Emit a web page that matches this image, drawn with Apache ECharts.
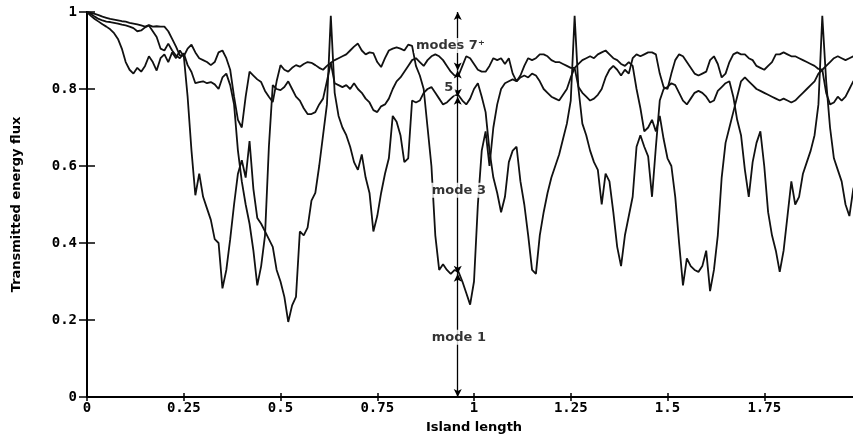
<!DOCTYPE html>
<html>
<head>
<meta charset="utf-8">
<title>Transmitted energy flux</title>
<script src="https://cdn.jsdelivr.net/npm/echarts@6/dist/echarts.min.js"></script>
<style>
  html, body { margin: 0; padding: 0; background: #fff; }
  #main { width: 853px; height: 436px; }
</style>
</head>
<body>
<div id="main"></div>
<script>
// island length grid: 0 .. 2, read every 0.01
const xStep = 0.01
const xCount = 201

// curve with the sharp peaks to 1
const curveA = [
  1.000, 0.998, 0.995, 0.992, 0.988, 0.985, 0.982, 0.980, 0.978, 0.976,
  0.975, 0.972, 0.970, 0.968, 0.965, 0.962, 0.966, 0.962, 0.963, 0.962,
  0.962, 0.950, 0.930, 0.910, 0.887, 0.887, 0.780, 0.640, 0.524, 0.580,
  0.520, 0.490, 0.460, 0.410, 0.400, 0.282, 0.330, 0.410, 0.500, 0.580,
  0.615, 0.570, 0.665, 0.540, 0.465, 0.450, 0.430, 0.410, 0.390, 0.330,
  0.300, 0.260, 0.195, 0.238, 0.260, 0.430, 0.420, 0.440, 0.510, 0.530,
  0.600, 0.680, 0.760, 0.990, 0.790, 0.730, 0.700, 0.680, 0.650, 0.610,
  0.590, 0.630, 0.570, 0.530, 0.430, 0.470, 0.530, 0.580, 0.620, 0.730,
  0.715, 0.680, 0.610, 0.620, 0.770, 0.765, 0.770, 0.790, 0.800, 0.805,
  0.790, 0.775, 0.760, 0.765, 0.775, 0.784, 0.784, 0.770, 0.760, 0.775,
  0.800, 0.815, 0.780, 0.740, 0.640, 0.570, 0.530, 0.480, 0.520, 0.610,
  0.640, 0.650, 0.560, 0.500, 0.420, 0.330, 0.320, 0.420, 0.480, 0.530,
  0.570, 0.600, 0.630, 0.670, 0.710, 0.770, 0.990, 0.800, 0.710, 0.680,
  0.640, 0.610, 0.590, 0.500, 0.580, 0.560, 0.480, 0.390, 0.340, 0.420,
  0.470, 0.520, 0.650, 0.680, 0.650, 0.625, 0.520, 0.650, 0.770, 0.800,
  0.805, 0.815, 0.810, 0.790, 0.770, 0.760, 0.775, 0.790, 0.795, 0.790,
  0.780, 0.765, 0.770, 0.795, 0.805, 0.815, 0.820, 0.780, 0.720, 0.680,
  0.590, 0.520, 0.610, 0.660, 0.690, 0.600, 0.480, 0.420, 0.380, 0.325,
  0.380, 0.470, 0.560, 0.500, 0.520, 0.580, 0.610, 0.640, 0.680, 0.760,
  0.990, 0.820, 0.700, 0.620, 0.590, 0.560, 0.500, 0.470, 0.540, 0.570, 0.600
]

// curve with the wide flat-bottomed dips
const curveB = [
  1.000, 0.995, 0.988, 0.982, 0.978, 0.975, 0.974, 0.972, 0.970, 0.967,
  0.965, 0.962, 0.958, 0.950, 0.952, 0.960, 0.965, 0.950, 0.935, 0.905,
  0.900, 0.918, 0.900, 0.887, 0.880, 0.893, 0.862, 0.844, 0.815, 0.818,
  0.820, 0.815, 0.818, 0.812, 0.800, 0.830, 0.840, 0.810, 0.760, 0.640,
  0.560, 0.500, 0.450, 0.380, 0.290, 0.340, 0.420, 0.650, 0.810, 0.800,
  0.797, 0.805, 0.820, 0.800, 0.780, 0.770, 0.750, 0.735, 0.735, 0.740,
  0.760, 0.775, 0.820, 0.868, 0.875, 0.880, 0.885, 0.890, 0.900, 0.910,
  0.918, 0.900, 0.890, 0.895, 0.893, 0.870, 0.857, 0.880, 0.900, 0.905,
  0.908, 0.905, 0.900, 0.915, 0.912, 0.860, 0.835, 0.800, 0.700, 0.600,
  0.420, 0.330, 0.345, 0.330, 0.320, 0.330, 0.325, 0.300, 0.270, 0.240,
  0.300, 0.500, 0.640, 0.690, 0.600, 0.700, 0.760, 0.800, 0.815, 0.820,
  0.825, 0.820, 0.830, 0.835, 0.830, 0.840, 0.835, 0.820, 0.800, 0.790,
  0.780, 0.775, 0.770, 0.785, 0.800, 0.830, 0.855, 0.865, 0.875, 0.880,
  0.885, 0.880, 0.890, 0.895, 0.900, 0.890, 0.880, 0.875, 0.865, 0.860,
  0.870, 0.860, 0.800, 0.750, 0.690, 0.700, 0.720, 0.690, 0.730, 0.670,
  0.620, 0.600, 0.520, 0.400, 0.290, 0.360, 0.340, 0.330, 0.325, 0.340,
  0.380, 0.275, 0.330, 0.420, 0.570, 0.660, 0.700, 0.740, 0.780, 0.820,
  0.830, 0.820, 0.810, 0.800, 0.795, 0.790, 0.785, 0.780, 0.775, 0.770,
  0.775, 0.770, 0.765, 0.770, 0.780, 0.790, 0.800, 0.810, 0.820, 0.840,
  0.850, 0.790, 0.760, 0.765, 0.780, 0.770, 0.780, 0.800, 0.820, 0.825, 0.830
]

// curve that stays in the upper band
const curveC = [
  1.000, 0.990, 0.982, 0.975, 0.968, 0.962, 0.955, 0.945, 0.930, 0.905,
  0.870, 0.850, 0.840, 0.855, 0.845, 0.860, 0.885, 0.870, 0.848, 0.880,
  0.890, 0.870, 0.895, 0.880, 0.900, 0.885, 0.905, 0.915, 0.895, 0.880,
  0.875, 0.870, 0.862, 0.870, 0.895, 0.900, 0.880, 0.850, 0.780, 0.720,
  0.700, 0.780, 0.845, 0.835, 0.825, 0.818, 0.795, 0.780, 0.766, 0.820,
  0.862, 0.850, 0.845, 0.855, 0.862, 0.858, 0.865, 0.870, 0.868, 0.862,
  0.855, 0.850, 0.860, 0.868, 0.815, 0.810, 0.805, 0.810, 0.800, 0.815,
  0.800, 0.790, 0.775, 0.765, 0.745, 0.740, 0.755, 0.760, 0.775, 0.800,
  0.820, 0.830, 0.845, 0.860, 0.875, 0.880, 0.870, 0.860, 0.875, 0.885,
  0.890, 0.885, 0.875, 0.860, 0.845, 0.835, 0.835, 0.860, 0.885, 0.880,
  0.865, 0.850, 0.845, 0.845, 0.860, 0.880, 0.875, 0.880, 0.865, 0.880,
  0.840, 0.820, 0.835, 0.860, 0.880, 0.875, 0.880, 0.890, 0.890, 0.885,
  0.875, 0.870, 0.870, 0.865, 0.860, 0.855, 0.855, 0.805, 0.790, 0.780,
  0.770, 0.775, 0.785, 0.800, 0.830, 0.850, 0.860, 0.850, 0.835, 0.850,
  0.840, 0.880, 0.890, 0.885, 0.890, 0.895, 0.895, 0.890, 0.840, 0.805,
  0.800, 0.840, 0.875, 0.890, 0.885, 0.870, 0.855, 0.840, 0.835, 0.840,
  0.845, 0.875, 0.885, 0.865, 0.830, 0.840, 0.870, 0.890, 0.895, 0.890,
  0.890, 0.880, 0.875, 0.860, 0.855, 0.850, 0.860, 0.870, 0.890, 0.890,
  0.895, 0.890, 0.885, 0.885, 0.880, 0.875, 0.870, 0.865, 0.860, 0.852,
  0.850, 0.860, 0.870, 0.880, 0.885, 0.880, 0.875, 0.880, 0.885, 0.880, 0.880
]

// annotation: vertical bracket with the mode labels
const noteText = ['modes 7\u207A', '5', 'mode 3', 'mode 1']
const noteX = [0.939, 0.935, 0.961, 0.961]
const noteY = [0.913, 0.803, 0.537, 0.155]
const bracketX = 0.958
const bracketLevels = [1, 0.848, 0.78, 0.32, 0]

const ink = '#000'
const tickFont = 'DejaVu Sans Mono'
const textFont = 'DejaVu Sans'

let islandLength = []
for (let i = 0; i < xCount; i++) {
  islandLength.push(Math.round(i * xStep * 100) / 100)
}

function pairs (ys) {
  return ys.map(function (y, i) {
    return [islandLength[i], y]
  })
}

let bracketSegments = []
for (let i = 0; i < bracketLevels.length - 1; i++) {
  bracketSegments.push([
    { coord: [bracketX, bracketLevels[i]] },
    { coord: [bracketX, bracketLevels[i + 1]] }
  ])
}

let curveStyle = {
  type: 'line',
  showSymbol: false,
  symbol: 'none',
  silent: true,
  lineStyle: { color: '#111', width: 1.8 },
  z: 3
}

let nameStyle = { color: ink, fontFamily: textFont, fontWeight: 'bold', fontSize: 13 }

let myChart = echarts.init(document.getElementById('main'), null, { renderer: 'canvas' })

let option = {
  animation: false,
  backgroundColor: '#fff',
  grid: { left: 87, right: -8, top: 12, bottom: 39, outerBoundsMode: 'none', containLabel: false },
  xAxis: [{
    type: 'value',
    min: 0,
    max: 2,
    interval: 0.25,
    axisLine: { lineStyle: { color: ink, width: 2 } },
    axisTick: { inside: true, length: 4, lineStyle: { color: ink, width: 1.5 } },
    axisLabel: { color: ink, fontFamily: tickFont, fontWeight: 'bold', fontSize: 14, margin: 4, hideOverlap: false },
    splitLine: { show: false },
    name: 'Island length',
    nameLocation: 'middle',
    nameGap: 24,
    nameTextStyle: nameStyle
  }, {
    type: 'value',
    position: 'top',
    min: 0,
    max: 2,
    interval: 0.25,
    axisLine: { lineStyle: { color: ink, width: 2 } },
    axisTick: { inside: true, length: 4, lineStyle: { color: ink, width: 1.5 } },
    axisLabel: { show: false },
    splitLine: { show: false }
  }],
  yAxis: [{
    type: 'value',
    min: 0,
    max: 1,
    interval: 0.2,
    axisLine: { show: true, lineStyle: { color: ink, width: 2 } },
    axisTick: { show: true, inside: true, length: 8, lineStyle: { color: ink, width: 1.5 } },
    axisLabel: { color: ink, fontFamily: tickFont, fontWeight: 'bold', fontSize: 14, margin: 10 },
    splitLine: { show: false },
    name: 'Transmitted energy flux',
    nameLocation: 'middle',
    nameGap: 64,
    nameRotate: 90,
    nameTextStyle: nameStyle
  }, {
    type: 'value',
    position: 'right',
    min: 0,
    max: 1,
    interval: 0.2,
    axisLine: { show: true, lineStyle: { color: ink, width: 2 } },
    axisTick: { show: true, inside: true, length: 8, lineStyle: { color: ink, width: 1.5 } },
    axisLabel: { show: false },
    splitLine: { show: false }
  }],
  series: [
    Object.assign({}, curveStyle, {
      name: 'curve A',
      data: pairs(curveA),
      markLine: {
        silent: true,
        symbol: ['arrow', 'arrow'],
        symbolSize: [6, 8],
        label: { show: false },
        lineStyle: { color: ink, width: 1.3, type: 'solid' },
        emphasis: { disabled: true },
        data: bracketSegments
      }
    }),
    Object.assign({}, curveStyle, { name: 'curve B', data: pairs(curveB) }),
    Object.assign({}, curveStyle, { name: 'curve C', data: pairs(curveC) }),
    {
      name: 'notes',
      type: 'scatter',
      symbolSize: 0,
      silent: true,
      z: 10,
      data: noteText.map(function (t, i) {
        return { name: t, value: [noteX[i], noteY[i]] }
      }),
      label: {
        show: true,
        position: 'inside',
        formatter: '{b}',
        color: ink,
        fontFamily: textFont,
        fontWeight: 'bold',
        fontSize: 13,
        backgroundColor: '#fff',
        padding: [1, 2]
      }
    }
  ]
}

myChart.setOption(option, true)
</script>
</body>
</html>
